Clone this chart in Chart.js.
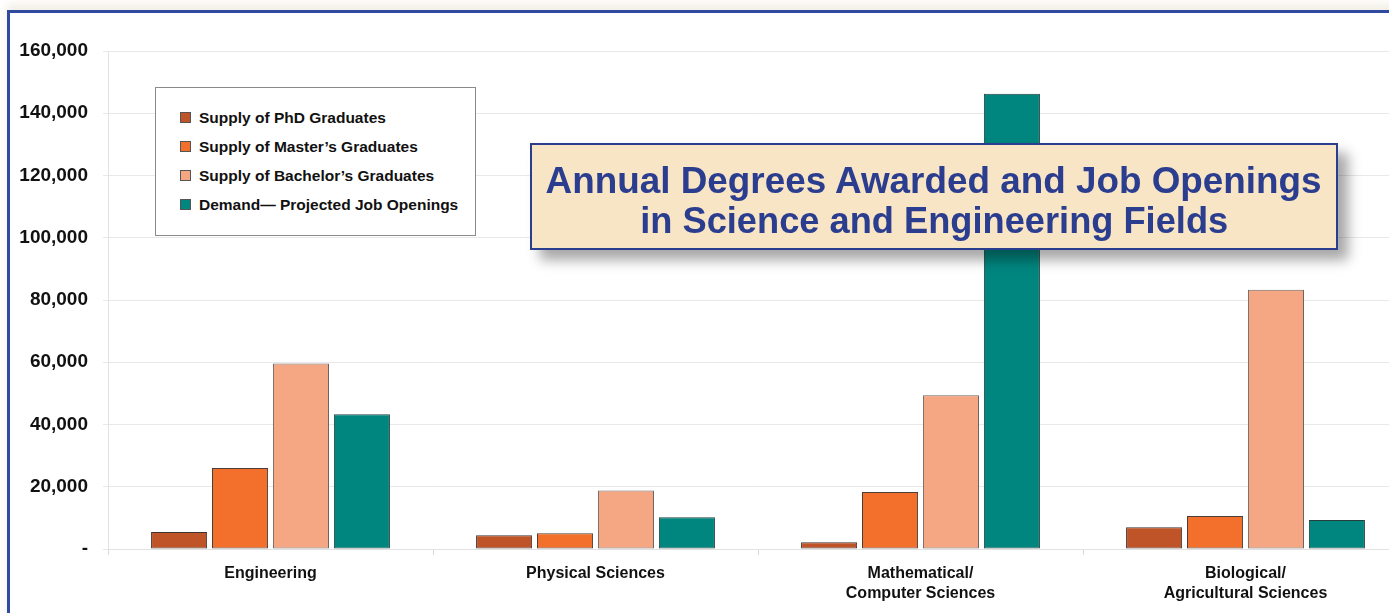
<!DOCTYPE html>
<html>
<head>
<meta charset="utf-8">
<script src="https://cdn.jsdelivr.net/npm/chart.js@4.4.1/dist/chart.umd.min.js"></script>
<style>
  html, body { margin: 0; padding: 0; background: #fff; overflow: hidden; }
  body { width: 1389px; height: 613px; position: relative; font-family: "Liberation Sans", Arial, sans-serif; }
  #frame {
    position: absolute; left: 7px; top: 10px; width: 1500px; height: 700px;
    border: 3px solid #2f4a9f; box-sizing: border-box;
    box-shadow: 0 -6px 8px rgba(200, 190, 150, 0.25);
  }
  #wrap { position: absolute; left: 0; top: 0; width: 1420px; height: 613px; }
  #legend {
    position: absolute; left: 155px; top: 87px; width: 321px; height: 149px;
    border: 1px solid #8a8a8a; background: #fff; box-sizing: border-box;
    padding-top: 15px;
  }
  #legend .item { display: flex; align-items: center; height: 29px; padding-left: 24px; }
  #legend .sw { width: 11px; height: 11px; border: 1px solid #555; box-sizing: border-box; margin-right: 8px; }
  #legend .lbl { font-weight: bold; font-size: 15.5px; color: #111; }
  #title {
    position: absolute; left: 530px; top: 143px; width: 808px; height: 107px;
    background: #f8e5c6; border: 2px solid #2b3d8e; box-sizing: border-box;
    box-shadow: 10px 10px 12px rgba(0, 0, 0, 0.35);
    color: #2b3d8e; padding-top: 16px;
    font-family: "Liberation Sans", Arial, sans-serif;
    font-weight: bold; font-size: 37px; line-height: 40px;
  }
  #title .line { display: block; white-space: nowrap; text-align: center; }
  #title .line span { display: inline-block; transform-origin: center; }
</style>
</head>
<body>
<div id="frame"></div>
<div id="wrap"><canvas id="chart"></canvas></div>
<div id="legend"></div>
<div id="title">
  <div class="line"><span data-w="776">Annual Degrees Awarded and Job Openings</span></div>
  <div class="line"><span data-w="588">in Science and Engineering Fields</span></div>
</div>
<script>
// data
const categories = ['Engineering', 'Physical Sciences', ['Mathematical/', 'Computer Sciences'], ['Biological/', 'Agricultural Sciences']];
const seriesNames = ['Supply of PhD Graduates', 'Supply of Master\u2019s Graduates', 'Supply of Bachelor\u2019s Graduates', 'Demand\u2014 Projected Job Openings'];
const phdGrads = [5500, 4400, 2200, 7000];
const mastersGrads = [26000, 5100, 18300, 10600];
const bachelorsGrads = [59600, 18800, 49400, 83300];
const jobOpenings = [43300, 10200, 146300, 9300];
const yTicks = [0, 20000, 40000, 60000, 80000, 100000, 120000, 140000, 160000];

const fills = ['#c05429', '#f2702c', '#f5a683', '#00867f'];
const edges = ['#3e3430', '#4a3e38', '#6f6560', '#263e3c'];

const seriesData = [phdGrads, mastersGrads, bachelorsGrads, jobOpenings];

// the title font in the picture is condensed; squeeze each line to its measured width
document.querySelectorAll('#title .line span').forEach(s => {
    const target = +s.dataset.w;
    const w = s.getBoundingClientRect().width;
    if (w > 0) s.style.transform = 'scaleX(' + (target / w) + ')';
});

// html legend, built from the series names
const legendEl = document.getElementById('legend');
seriesNames.forEach((name, i) => {
    const row = document.createElement('div');
    row.className = 'item';
    row.innerHTML = '<span class="sw" style="background:' + fills[i] + '"></span><span class="lbl"></span>';
    row.querySelector('.lbl').textContent = name;
    legendEl.appendChild(row);
});

new Chart(document.getElementById('chart'), {
    type: 'bar',
    data: {
        labels: categories,
        datasets: seriesData.map((d, i) => ({
            label: seriesNames[i],
            data: d,
            backgroundColor: fills[i],
            borderColor: edges[i],
            borderWidth: 1,
            borderSkipped: false,
            barPercentage: 0.92,
            categoryPercentage: 0.75
        }))
    },
    options: {
        responsive: true,
        maintainAspectRatio: false,
        animation: false,
        layout: { padding: { left: 8, top: 51, right: 12, bottom: 0 } },
        plugins: { legend: { display: false }, tooltip: { enabled: false } },
        scales: {
            x: {
                grid: { drawOnChartArea: false, color: '#d8d8d8', tickLength: 6, offset: true },
                border: { color: '#e2e2e2' },
                ticks: { color: '#111', font: { size: 16, weight: 'bold', family: 'Liberation Sans', lineHeight: 1.25 }, padding: 9, maxRotation: 0 },
                afterFit: (s) => { s.height = 64; }
            },
            y: {
                min: 0,
                max: 160000,
                afterBuildTicks: (s) => { s.ticks = yTicks.map(v => ({ value: v })); },
                grid: { color: '#e8e8e8', tickLength: 5 },
                border: { color: '#e2e2e2' },
                ticks: {
                    color: '#111',
                    padding: 15,
                    font: { size: 19, weight: 'bold', family: 'Liberation Sans' },
                    callback: (v) => v === 0 ? '-' : v.toLocaleString('en-US')
                },
                afterFit: (s) => { s.width = 100; }
            }
        }
    }
});
</script>
</body>
</html>
